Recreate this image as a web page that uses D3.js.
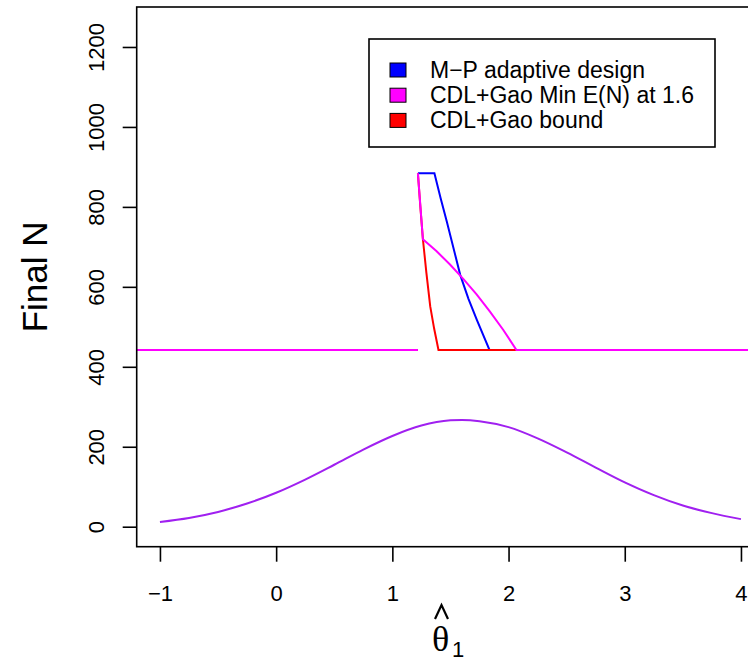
<!DOCTYPE html>
<html>
<head>
<meta charset="utf-8">
<script src="https://cdn.jsdelivr.net/npm/d3@7"></script>
<style>
  body { margin: 0; background: #fff; }
  svg { display: block; font-family: "Liberation Sans", Arial, Helvetica, sans-serif; }
</style>
</head>
<body>
<div id="chart"></div>
<script>
// ---------------- data ----------------

const xTicks = [-1, 0, 1, 2, 3, 4];
const yTicks = [0, 200, 400, 600, 800, 1000, 1200];

const legendLabels = ["M\u2212P adaptive design", "CDL+Gao Min E(N) at 1.6", "CDL+Gao bound"];
const legendColors = ["#0000ff", "#ff00ff", "#ff0000"];

// M-P adaptive design (blue)
const mpX = [-1.2, 1.22, null, 1.22, 1.362, 1.415, 1.469, 1.584, 1.655, 1.728, 1.836, 4.2];
const mpN = [442, 442, null, 884, 884, 822, 763, 630, 570, 517, 442, 442];

// CDL+Gao bound (red)
const boundX = [-1.2, 1.22, null, 1.22, 1.241, 1.263, 1.293, 1.326, 1.36, 1.397, 4.2];
const boundN = [442, 442, null, 884, 800, 719, 635, 551, 495, 442, 442];

// CDL+Gao Min E(N) at 1.6 (magenta)
const minX = [-1.2, 1.22, null, 1.22, 1.263, 1.381, 1.496, 1.61, 1.725, 1.84, 1.955, 2.068, 4.2];
const minN = [442, 442, null, 884, 719, 689, 656, 620, 581, 538, 492, 442, 442];

// density-shaped curve (purple)
const densX = [-1, -0.75, -0.5, -0.25, 0, 0.25, 0.5, 0.75, 1, 1.25, 1.5, 1.6, 1.75, 2, 2.25, 2.5, 2.75, 3, 3.25, 3.5, 3.75, 4];
const densN = [12, 22, 37, 58, 85, 118, 155, 193, 227, 253, 266, 267, 264, 249, 221, 186, 148, 111, 79, 53, 34, 19];

// ---------------- layout ----------------

const width = 748;
const height = 661;
const box = { left: 136.7, top: 7, bottom: 546.7 };

const xScale = d3.scaleLinear().domain([-1.2, 4.2]).range([box.left, 764.2]);
const yScale = d3.scaleLinear().domain([-50, 1300]).range([box.bottom, box.top]);

const svg = d3.select("#chart").append("svg")
  .attr("width", width)
  .attr("height", height);

svg.append("clipPath").attr("id", "plotclip")
  .append("rect")
  .attr("x", box.left).attr("y", box.top)
  .attr("width", xScale(4.2) - box.left)
  .attr("height", box.bottom - box.top);

const plot = svg.append("g").attr("clip-path", "url(#plotclip)");

const toPts = (xs, ys) => xs.map((x, i) => (x === null ? null : [x, ys[i]]));

const seg = d3.line()
  .defined((d) => d !== null)
  .x((d) => xScale(d[0]))
  .y((d) => yScale(d[1]));

// draw order: blue, red, magenta on top
[[mpX, mpN, legendColors[0]], [boundX, boundN, legendColors[2]], [minX, minN, legendColors[1]]]
  .forEach(([xs, ys, c]) => {
    plot.append("path")
      .attr("d", seg(toPts(xs, ys)))
      .attr("fill", "none")
      .attr("stroke", c)
      .attr("stroke-width", 2);
  });

const smooth = d3.line()
  .x((d) => xScale(d[0]))
  .y((d) => yScale(d[1]))
  .curve(d3.curveMonotoneX);

plot.append("path")
  .attr("d", smooth(toPts(densX, densN)))
  .attr("fill", "none")
  .attr("stroke", "#a020f0")
  .attr("stroke-width", 2);

// ---------------- frame & axes ----------------

svg.append("rect")
  .attr("x", box.left).attr("y", box.top)
  .attr("width", xScale(4.2) - box.left)
  .attr("height", box.bottom - box.top)
  .attr("fill", "none")
  .attr("stroke", "#000")
  .attr("stroke-width", 1.6);

const xAxis = svg.append("g")
  .attr("transform", `translate(0,${box.bottom})`)
  .call(d3.axisBottom(xScale).tickValues(xTicks).tickSize(15).tickPadding(24)
    .tickFormat((d) => (d < 0 ? "\u2212" + Math.abs(d) : d)));
xAxis.select(".domain").remove();
xAxis.selectAll("line").attr("stroke", "#000").attr("stroke-width", 1.6);
xAxis.selectAll("text").attr("font-size", 22).attr("font-family", "Liberation Sans, Arial, sans-serif").attr("fill", "#000");

const yAxis = svg.append("g")
  .attr("transform", `translate(${box.left},0)`)
  .call(d3.axisLeft(yScale).tickValues(yTicks).tickSize(14).tickFormat((d) => d));
yAxis.select(".domain").remove();
yAxis.selectAll("line").attr("stroke", "#000").attr("stroke-width", 1.6);
yAxis.selectAll(".tick text")
  .attr("font-size", 22)
  .attr("font-family", "Liberation Sans, Arial, sans-serif")
  .attr("fill", "#000")
  .attr("x", null).attr("dy", null)
  .attr("text-anchor", "middle")
  .attr("dominant-baseline", "central")
  .attr("transform", "translate(-40,0) rotate(-90)");

// axis titles
svg.append("text")
  .attr("transform", `translate(47,${(box.top + box.bottom) / 2}) rotate(-90)`)
  .attr("text-anchor", "middle")
  .attr("font-size", 35)
  .text("Final N");

// theta with subscript 1; the hat accent is drawn as a small stroke
const xt = svg.append("text").attr("font-size", 22);
xt.append("tspan")
  .attr("x", 432).attr("y", 651)
  .attr("font-family", "Liberation Serif, DejaVu Serif, serif")
  .attr("font-size", 36)
  .text("\u03b8");
xt.append("tspan")
  .attr("x", 452).attr("y", 657)
  .attr("font-size", 22)
  .text("1");

svg.append("path")
  .attr("d", "M435,619 L441.5,605 L448,619")
  .attr("fill", "none")
  .attr("stroke", "#000")
  .attr("stroke-width", 2.2)
  .attr("stroke-linejoin", "miter");

// ---------------- legend ----------------

const legend = svg.append("g");
legend.append("rect")
  .attr("x", 369).attr("y", 39)
  .attr("width", 346).attr("height", 108)
  .attr("fill", "#fff")
  .attr("stroke", "#000")
  .attr("stroke-width", 1.6);

const rows = legend.selectAll(".row")
  .data(legendLabels)
  .enter()
  .append("g")
  .attr("class", "row")
  .attr("transform", (d, i) => `translate(0,${70 + i * 25.2})`);

rows.append("rect")
  .attr("x", 390).attr("y", -7)
  .attr("width", 16).attr("height", 14)
  .attr("fill", (d, i) => legendColors[i])
  .attr("stroke", "#000")
  .attr("stroke-width", 1);

rows.append("text")
  .attr("x", 430)
  .attr("dy", "0.35em")
  .attr("font-size", 23)
  .text((d) => d);
</script>
</body>
</html>
